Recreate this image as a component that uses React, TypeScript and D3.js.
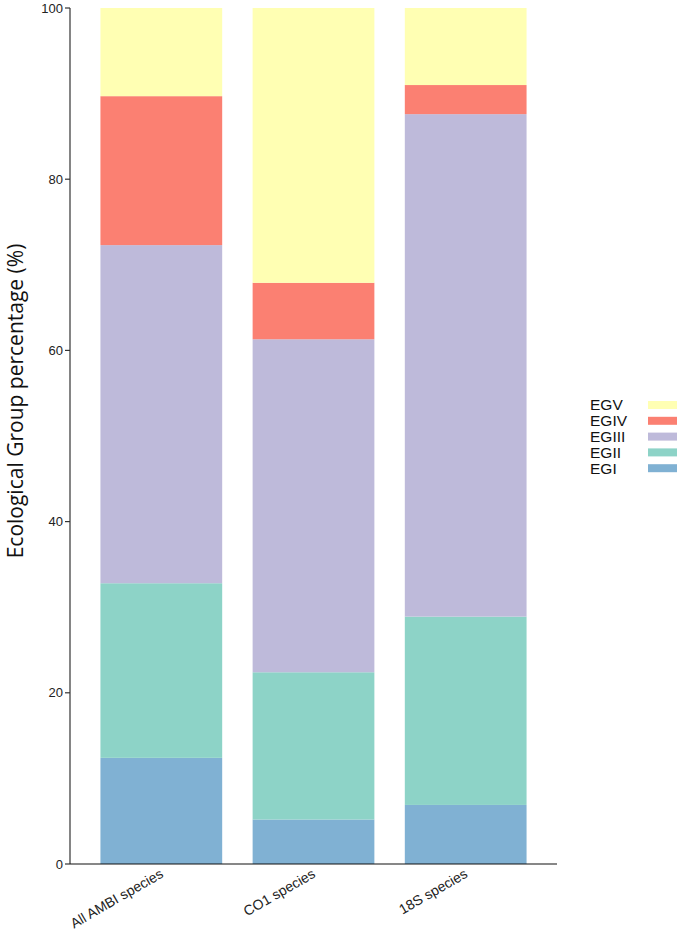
import React from "react";
import * as d3 from "d3";

const categories = ["All AMBI species", "CO1 species", "18S species"];
const groups = ["EGI", "EGII", "EGIII", "EGIV", "EGV"];
const EGI = [12.4, 5.2, 6.9];
const EGII = [20.4, 17.2, 22.0];
const EGIII = [39.5, 38.9, 58.7];
const EGIV = [17.4, 6.6, 3.4];
const EGV = [10.3, 32.1, 9.0];
const yTicks = [0, 20, 40, 60, 80, 100];
const colors = ["#80b1d3", "#8dd3c7", "#bebada", "#fb8072", "#ffffb3"];

export default function App() {
  const W = 681, H = 933;
  const left = 70, right = 557, top = 8, bottom = 864;
  const seriesVals = [EGI, EGII, EGIII, EGIV, EGV];
  const rows = categories.map((c, i) => {
    const r: any = { cat: c };
    groups.forEach((g, k) => (r[g] = seriesVals[k][i]));
    return r;
  });
  const stacked = d3.stack().keys(groups)(rows);
  const x = d3.scaleBand().domain(categories).range([left, right]).paddingInner(0.2).paddingOuter(0.2);
  const y = d3.scaleLinear().domain([0, 100]).range([bottom, top]);
  const font = "Liberation Sans, Arial, sans-serif";
  const legendOrder = [...groups].reverse();
  const legendColors = [...colors].reverse();

  return (
    <svg width={W} height={H} style={{ position: "absolute", left: 0, top: 0 }}>
      {stacked.map((s, k) => (
        <g key={groups[k]}>
          {s.map((d, i) => (
            <rect
              key={i}
              x={x(categories[i])}
              y={y(d[1])}
              width={x.bandwidth()}
              height={y(d[0]) - y(d[1])}
              fill={colors[k]}
            />
          ))}
        </g>
      ))}
      {/* y axis */}
      <line x1={left} x2={left} y1={top} y2={bottom} stroke="#333" strokeWidth={1.2} />
      {yTicks.map((t) => (
        <g key={t} transform={`translate(0,${y(t)})`}>
          <line x1={left - 5} x2={left} stroke="#333" strokeWidth={1.2} />
          <text x={left - 7} dy="0.35em" textAnchor="end" fontFamily={font} fontSize={13} fill="#222">
            {t}
          </text>
        </g>
      ))}
      {/* x axis */}
      <line x1={left} x2={right} y1={bottom} y2={bottom} stroke="#111" strokeWidth={1.2} />
      {categories.map((c) => (
        <text
          key={c}
          transform={`translate(${(x(c) as number) + x.bandwidth() / 2 - 2},${bottom + 4}) rotate(-30)`}
          textAnchor="end"
          dy="0.7em"
          fontFamily={font}
          fontSize={14}
          fill="#222"
        >
          {c}
        </text>
      ))}
      <text
        transform={`translate(23,${401}) rotate(-90)`}
        textAnchor="middle"
        fontFamily="Open Sans, Noto Sans, sans-serif"
        fontSize={21}
        fill="#111"
      >
        Ecological Group percentage (%)
      </text>
      {/* legend */}
      {legendOrder.map((g, i) => (
        <g key={g} transform={`translate(590,${405 + i * 15.8})`}>
          <text x={0} dy="0.35em" fontFamily={font} fontSize={15.5} fill="#111">
            {g}
          </text>
          <rect x={58} y={-4} width={29} height={8} fill={legendColors[i]} />
        </g>
      ))}
    </svg>
  );
}
